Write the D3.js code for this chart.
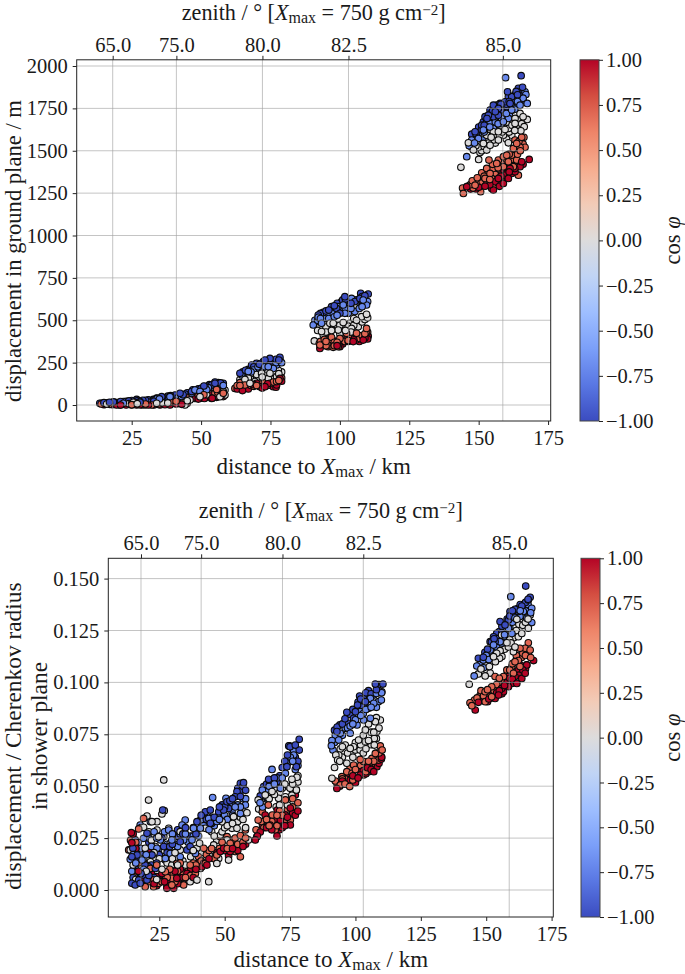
<!DOCTYPE html>
<html><head><meta charset="utf-8">
<script src="https://cdn.jsdelivr.net/npm/d3@7"></script>
<style>html,body{margin:0;background:#fff}svg{display:block}text{font-family:"Liberation Serif",serif;fill:#1a1a1a}</style>
</head><body><div id="c"></div>
<script>
// Colour values (cos phi) of the five visible point groups
const cosLevels = [-1, -0.71, 0, 0.71, 1];
const zenithLabels = ["65.0", "75.0", "80.0", "82.5", "85.0"];
const zenithKm = [18.16, 41.1, 72.1, 103.1, 158.7];
const zenithKmLower = [18.0, 41.0, 72.1, 103.0, 158.8];
const coolwarm = ["#3b4cc0","#5977e3","#7b9ff9","#9ebeff","#c0d4f5","#dddcdc","#f2cbb7","#f7ac8e","#ee8468","#d44e41","#b40426"];
const xTicks = [25,50,75,100,125,150,175];
const yTicksTop = [0,250,500,750,1000,1250,1500,1750,2000];
const yTicksLower = [0,0.025,0.05,0.075,0.1,0.125,0.15];
const cbarTicks = [-1,-0.75,-0.5,-0.25,0,0.25,0.5,0.75,1];

// Upper panel: [distance km, displacement m]
const topDarkBlue = [[165.3,1943],[164.3,1868],[165.8,1874],[160.4,1848],[164.9,1848],[160.7,1819],[161.9,1819],[155.3,1769],[156.5,1769],[157.7,1779],[159.5,1789],[161.3,1779],[158.9,1760],[154.1,1740],[155.9,1744],[157.1,1750],[160.1,1760],[152.3,1701],[153.5,1710],[151.7,1671],[152.9,1681],[151.1,1651],[148.7,1612],[147.5,1598],[149.3,1587],[155.3,1701],[157.1,1710],
 [150,1640],[151,1625],[152,1650],[153,1690],[154,1700],[154.5,1720],[155,1735],[156,1730],[157,1735],[158,1740],[158,1775],[159,1780],[160,1790],[160,1775],[161,1790],[162,1800],[163,1830],[163.5,1850],[164,1830],[165,1825],[166,1800],[149,1600],
 [101.8,639],[107.5,659],[110.2,655],[107.2,629],[94,547],[92.2,531],[97,580],[98.8,570],[100.6,610],[103.6,619],[105.4,610],[100,541],
 [93,540],[95,555],[96,560],[98,585],[99,600],[101,620],[102,625],[104,600],[106,620],[108,640],[109,645],[103,600],[97,560],
 [78.4,281],[74.8,275],[76.6,256],[68.2,236],[65.2,187],[64,187],[70,246],[72.4,256],
 [65,195],[66,205],[67,210],[69,225],[71,240],[73,265],[75,260],[77,270],[78,265],[72,245],
 [56.2,132],[53.8,118],[51.4,108],[48.4,88],[58,128],[46.6,79],[55,128],[54.5,124],[52.5,112],[50,98],
 [42.4,69],[44.2,65],[40.6,59],[35.8,49],[32.8,33],[26.8,33],[22,20],[18.4,18],[38,52],[30,28],[24,24],[43.5,60],[41,45],[37,30],[33,22],[28,16],[15.5,12],
 [13.5,10],[15,14],[17,16],[19,16],[20,14],[21,20],[23,22],[25,26],[27,25],[29,28],[31,30],[34,40],[36,44],[39,55],[45,72],[47,90],[49,95],[51,112],[53,120],[55,135],[57,130]];
const topMidBlue = [[159.7,1931],[167,1832],[167.5,1779],[164.9,1769],[163.1,1764],[160.7,1691],[158.9,1671],[156.7,1618],[154.1,1661],[151.7,1622],[151.4,1563],[147.5,1563],[146.6,1529],[145.7,1465],[160.1,1651],[158.3,1691],[161.9,1740],[166.7,1848],[155.3,1632],[149.9,1573],
 [150,1590],[152,1610],[153,1640],[154,1640],[155,1660],[156,1670],[157,1660],[158,1660],[159,1700],[160,1720],[161,1715],[162,1760],[163,1745],[164,1790],[165,1790],[166,1810],[148.5,1545],[147,1545],
 [90.4,472],[92.2,517],[94,525],[96.2,531],[97.6,541],[101.2,590],[103,580],[104.2,629],[108.4,619],[107.8,600],[109.6,590],[101.8,541],[105.4,551],[103,541],[99.4,580],[93.4,482],
 [91,500],[92,500],[93,510],[95,510],[96,510],[98,520],[99,530],[100,560],[102,570],[104,570],[106,590],[107,570],[108,580],[105,590],[110,610],
 [64.6,177],[67,197],[70,216],[71.8,236],[74.2,226],[77.2,236],[68.8,206],[76,216],[78.4,265],
 [65,170],[66,185],[68,195],[69,215],[70.5,225],[73,225],[75,240],[77,250],[79,250],[72,215],
 [55.6,118],[52.6,102],[49.6,79],[55,88],[46.6,69],[47.8,88],
 [14,10],[18.4,10],[25,10],[29.2,10],[32.2,20],[34.2,39],[38.8,49],[36.4,29],[41.8,45],[22,10],[16,10],
 [15,8],[17,12],[20,10],[24,14],[26,16],[28,20],[30,20],[33,28],[35,36],[37,40],[40,48],[43,50],[45,55],[48,75],[50,85],[52,90],[54,105],[56,105],[58,115]];
const topGray = [[143.6,1402],[150,1449],[146.3,1547],[148.1,1504],[151.1,1500],[152.9,1504],[154.1,1533],[152.9,1563],[155.3,1563],[157.1,1563],[160.7,1547],[161.9,1592],[158.9,1592],[160.7,1632],[163.1,1661],[164.9,1681],[167.5,1685],[166.4,1642],[165.2,1618],[162.2,1740],[164.9,1720],[163.1,1691],[151.7,1543],[149.9,1520],[155.3,1612],[157.1,1612],[153.5,1626],[152.9,1592],
 [147.5,1520],[149,1530],[150.5,1490],[152,1525],[153.5,1545],[154.5,1580],[156,1545],[157.5,1590],[158.5,1610],[159.5,1625],[160,1570],[161,1610],[162,1650],[163,1620],[164,1650],[165.5,1660],[166,1700],[161.5,1680],[160,1665],
 [90.8,378],[93.4,433],[94,452],[96.4,423],[97.6,482],[101.2,486],[103.6,482],[105.4,590],[107.8,521],[109.6,535],[106.6,462],[104.2,452],[99.4,442],[101.8,462],[92.8,462],[96.4,482],
 [92,440],[93,450],[95,460],[95,430],[97,440],[98,465],[99,470],[100,470],[102,440],[103,465],[105,470],[105,510],[106,500],[108,490],[109,505],[110,515],[94,415],[100,420],[104,430],
 [65.8,151],[68.2,187],[69.4,138],[71.8,187],[74.8,187],[77.8,206],[74.2,157],[77.2,167],[67.6,128],[71.8,138],
 [66,145],[67,160],[68,165],[70,160],[70,180],[72,165],[73,175],[75,165],[76,190],[78,185],[79,195],[64,150],
 [58.6,59],[56.8,49],[52.6,73],[47.8,39],[53.8,39],[49.6,49],[45.4,39],[58.6,88],
 [25.6,16],[38.8,20],[44.2,0],[20.8,0],[34,10],[17.2,6],[29.8,0],[41.8,10],
 [16,6],[19,6],[22,6],[24,8],[27,8],[31,6],[33,14],[36,14],[38,12],[40,26],[42,20],[46,30],[48,50],[50,60],[51,45],[52,60],[55,65],[57,70],[58,80],[45,25]];
const topOrange = [[144.2,1280],[144.5,1248],[147.7,1323],[150.7,1258],[151.1,1370],[152.9,1396],[153.7,1445],[155.9,1406],[157.1,1445],[158.9,1465],[160.1,1474],[161.9,1474],[163.7,1445],[165.5,1579],[163.7,1543],[166.7,1520],[164.9,1520],[162.5,1514],[160.7,1435],[164.3,1356],[157.7,1356],[154.7,1337],[152.3,1337],[150.5,1317],[155.9,1297],[158.9,1406],[154.1,1366],[163.1,1563],[166.3,1579],[162.5,1406],[148.7,1297],
 [146,1290],[147,1300],[149,1310],[149.5,1340],[151,1310],[152,1350],[153,1320],[154,1330],[155,1390],[156,1360],[157,1400],[158,1380],[159,1430],[160,1450],[161,1480],[162,1450],[163,1510],[164,1480],[165,1500],[166,1540],[164.5,1555],[155,1420],[156.5,1425],[153,1360],[148,1280],
 [92.6,364],[94.4,387],[95.8,344],[97.6,340],[100,393],[102.4,423],[104.2,393],[101.8,374],[106,423],[109.6,452],[109.6,433],[107.2,393],[99.4,344],[92.8,354],[94.6,364],[97,399],
 [93,375],[95,375],[96,385],[98,370],[99,370],[100,365],[101,395],[103,405],[103,380],[105,400],[106,385],[108,410],[109,420],[110,430],[96,350],[98,350],[95,350],[107,410],
 [62.2,98],[64,132],[65.8,118],[67.6,108],[71.2,108],[74.8,128],[77.2,138],[63.4,98],[73,138],
 [63,115],[64,115],[66,105],[68,115],[69,110],[70,115],[72,125],[74,115],[76,135],[78,145],[79,160],
 [49.6,69],[55.6,92],[54.4,59],[52,49],[47.8,59],[57.4,59],
 [15.4,4],[22,14],[28.6,0],[32.2,0],[37,20],[43,20],[40.6,10],[25,2],[35,6],[19,4],
 [14,6],[17,4],[21,4],[24,6],[27,6],[30,6],[33,8],[36,12],[39,16],[41,22],[44,32],[46,50],[49,55],[51,60],[53,55],[55,70],[56,75],[58,70]];
const topRed = [[168.2,1449],[165.5,1435],[163.1,1415],[163.1,1376],[161.3,1396],[161.9,1366],[159.5,1356],[160.7,1337],[158.3,1337],[155.9,1317],[154.7,1278],[155.3,1268],[152.3,1291],[147.1,1274],[145.7,1288],[157.1,1337],[160.1,1396],[164.9,1406],[158.9,1307],
 [149,1275],[150,1285],[151,1295],[153,1300],[154,1300],[156,1300],[157,1310],[158,1350],[159,1375],[160,1365],[161,1375],[162,1400],[163,1395],[164,1425],[166,1420],[157.5,1290],[154,1340],[155.5,1345],
 [92.8,334],[97.4,383],[100,344],[104.8,374],[106.6,399],[108.4,383],[110.2,407],[101.8,383],
 [94,350],[96,360],[98,355],[99,350],[101,360],[103,375],[105,385],[107,375],[109,395],[95,360],[110,390],
 [64.9,85],[65.2,108],[70,128],[73,108],[76,108],[77.2,118],[78.4,157],[68.2,128],
 [63,95],[66,100],[67,95],[69,120],[71,120],[72,100],[74,125],[75,120],[77,105],[79,140],
 [48.2,45],[51.2,39],[55.6,45],[53.8,59],
 [19.6,0],[35.2,0],[26.8,0],[31,0],[38.8,0],[23,0],[43,4],
 [15,2],[18,2],[21,0],[25,0],[28,2],[33,0],[37,2],[41,6],[45,10],[47,40],[49,35],[50,40],[52,45],[54,40],[56,50],[57,55],[58,50]];

// Lower panel: [distance km, displacement / Cherenkov radius]
const lowDarkBlue = [[165.1,.1464],[166.8,.1410],[164.9,.1381],[163.6,.1368],[161,.1352],[159.1,.1341],[160.4,.1333],[155.3,.1293],[157.2,.1277],[154,.1236],[152.8,.1220],[151.5,.1196],[153.4,.1196],[148.9,.1121],[147,.1116],[154.7,.1212],[158.5,.1301],[162.3,.1341],
 [149.5,.1145],[150.5,.1160],[152,.1195],[153,.1210],[155,.1245],[156,.1270],[158,.1305],[159,.1320],[160,.1345],[162,.1355],[163,.1375],[165,.1385],[166,.1400],[164,.1365],[154,.1200],[156,.1240],
 [107.6,.0992],[110.5,.0992],[110.1,.0955],[101.6,.0934],[100.8,.0891],[96.7,.0856],[99.3,.0827],[94,.0795],[97.4,.0803],[103.8,.0907],[107,.0939],[105,.0875],[100,.0859],[92.9,.0763],[102.5,.0883],
 [92,.0770],[93,.0785],[95,.0800],[96,.0825],[98,.0845],[99,.0870],[101,.0905],[102,.0920],[103,.0925],[104,.0950],[106,.0945],[108,.0965],[109,.0990],[105,.0960],
 [78.5,.0726],[78.5,.0674],[77,.0698],[74.5,.0694],[75.7,.0642],[77.4,.0594],[66.8,.0533],[70,.0522],[64.9,.0498],[63.6,.0453],[73.8,.0594],[66.2,.0425],
 [65,.0480],[66,.0510],[67,.0530],[69,.0540],[71,.0550],[72,.0590],[74,.0650],[75,.0690],[76,.0680],[77,.0640],[78,.0620],[73,.0620],
 [26.3,.0385],[14.5,.0032],[15.8,.0024],[14.9,.0201],[20.3,.0273],[32.4,.0257],[33,.0233],[26.7,.0209],[22.2,.0169],[27.3,.0144],[35.6,.0193],[20.9,.0112],[23.5,.0104],[57.2,.0517],[56,.0514],[54.7,.0474],[54,.0449],[49.6,.0385],[47.7,.0377],[51.5,.0393],[42.6,.0377],[44.5,.0385],[40.7,.0337],[39.4,.0329],[36.8,.0209],[20.3,.0048],[17.7,.0032],[56.6,.0482],[50.9,.0425],[44.5,.0321],[14.5,.0160],[15.2,.0128],[17.1,.0048],[19,.0072],[16.5,.0168],
 [15,.0060],[16,.0100],[16,.0200],[17,.0150],[18,.0080],[18.5,.0050],[19,.0180],[19.5,.0120],[21,.0070],[21,.0230],[22,.0120],[23,.0060],[24,.0130],[25,.0170],[26,.0250],[28,.0180],[29,.0210],[30,.0220],[31,.0180],[32,.0290],[34,.0270],[35,.0300],[37,.0260],[38,.0300],[39,.0270],[41,.0360],[42,.0350],[43,.0340],[45,.0320],[46,.0350],[48,.0400],[49,.0410],[50,.0400],[52,.0430],[53,.0440],[55,.0490],[57,.0500],[58,.0480],[56,.0450]];
const lowMidBlue = [[159.4,.1413],[164.2,.1341],[167.4,.1357],[165.5,.1309],[167.4,.1288],[159.8,.1236],[156.6,.1220],[155.3,.1196],[152.8,.1180],[151.5,.1156],[148.9,.1108],[146.4,.1079],[145.4,.1031],[148.3,.1068],[162.9,.1317],[158.5,.1261],[166.1,.1397],
 [147.5,.1085],[149,.1070],[150,.1130],[151,.1110],[152,.1150],[154,.1170],[156,.1190],[157,.1230],[158,.1220],[159,.1265],[160,.1290],[161,.1310],[163,.1345],[165,.1345],[166,.1375],[167,.1335],
 [90.8,.0695],[91.4,.0674],[92.3,.0746],[94.2,.0755],[98,.0755],[100.6,.0795],[103.1,.0819],[105.7,.0827],[107,.0899],[108.8,.0907],[109.9,.0915],[108,.0947],[105.7,.0923],[101.8,.0859],[96.1,.0779],[93.6,.0722],
 [91,.0720],[92,.0710],[93,.0755],[95,.0745],[97,.0780],[99,.0800],[100,.0820],[102,.0840],[104,.0870],[106,.0880],[108,.0880],[103,.0850],[110,.0950],[98,.0790],
 [74.8,.0694],[76.4,.0671],[75.1,.0639],[68.1,.0581],[71.3,.0549],[73.2,.0562],[68.7,.0522],[71.3,.0490],[65.5,.0465],[66.2,.0417],[76.4,.0650],[64.4,.0482],
 [63.5,.0420],[64,.0450],[66,.0480],[67,.0500],[69,.0510],[70,.0540],[72,.0540],[74,.0610],[76,.0620],[77,.0580],[78,.0600],[64.5,.0400],
 [45.4,.0445],[50.5,.0442],[34.9,.0337],[33.7,.0313],[28.6,.0289],[17.7,.0313],[21.6,.0329],[19,.0249],[25.4,.0241],[29.8,.0241],[34.3,.0241],[37.5,.0241],[13.9,.0148],[18.4,.0144],[17.7,.0080],[24.1,.0201],[33,.0160],[27.3,.0152],[42,.0337],[43.9,.0345],[38.1,.0297],[40.7,.0297],[49.6,.0361],[52.8,.0409],[56,.0369],[57.9,.0409],[48.3,.0361],[15.8,.0241],[29.2,.0176],[38.8,.0176],[52.8,.0377],[41.3,.0361],
 [14.5,.0090],[15,.0170],[16,.0130],[17,.0230],[18,.0200],[19,.0100],[20,.0170],[21,.0250],[22,.0210],[23,.0280],[24,.0250],[26,.0200],[27,.0280],[28,.0220],[30,.0270],[31,.0220],[32,.0210],[33,.0270],[35,.0270],[36,.0230],[38,.0260],[40,.0260],[42,.0310],[44,.0290],[45,.0350],[46,.0310],[47,.0330],[48,.0340],[50,.0360],[51,.0340],[53,.0360],[54,.0400],[55,.0410],[57,.0440],[58,.0440],[56,.0400]];
const lowGray = [[143.5,.0991],[149.6,.1031],[151.2,.1076],[147,.1041],[152.8,.1124],[152.8,.1164],[155.1,.1116],[155.3,.1153],[160.4,.1148],[157.9,.1191],[162.3,.1220],[163.6,.1236],[166.1,.1261],[161.7,.1304],[166.1,.1357],[163.6,.1325],[166.8,.1325],[155.9,.1228],
 [148,.1065],[150,.1080],[151.5,.1045],[152,.1100],[153.5,.1100],[154,.1140],[156,.1125],[157,.1160],[158.5,.1170],[159.5,.1190],[161,.1170],[161.5,.1250],[162.5,.1280],[164,.1275],[165,.1290],[166,.1305],[160.5,.1215],[159,.1205],
 [91,.0538],[93.2,.0626],[94.2,.0679],[96.1,.0698],[93.6,.0650],[96.7,.0610],[98,.0682],[100,.0674],[101.2,.0722],[103.8,.0714],[107.2,.0730],[107.2,.0698],[108.2,.0763],[109.5,.0819],[107.6,.0811],[105.7,.0918],[103.8,.0771],[101.8,.0674],[99.3,.0690],
 [92,.0590],[92.5,.0650],[94,.0620],[95,.0640],[95,.0690],[97,.0660],[99,.0640],[100,.0710],[102,.0700],[103,.0660],[104,.0680],[105,.0720],[106,.0760],[106,.0700],[108,.0730],[109,.0780],[107,.0760],[105,.0800],[103,.0745],[108,.0830],
 [77.6,.0543],[75.7,.0533],[74.5,.0498],[75.7,.0457],[73.2,.0449],[70.6,.0442],[68.1,.0474],[69.7,.0401],[77.4,.0482],[62.8,.0434],[65.5,.0458],[69.3,.0482],
 [63,.0390],[65,.0410],[67,.0440],[69,.0460],[71,.0470],[72,.0490],[73,.0510],[75,.0490],[76,.0510],[78,.0520],[78,.0550],[71,.0410],[74,.0410],
 [26.7,.0530],[20.9,.0433],[20.3,.0356],[26,.0366],[24.1,.0329],[22.2,.0329],[26.9,.0382],[24.1,.0289],[19,.0302],[28.6,.0297],[24.7,.0257],[26.7,.0257],[13.9,.0193],[29.2,.0225],[19.6,.0201],[23.5,.0209],[33,.0193],[39.4,.0201],[40.4,.0225],[39.4,.0048],[43.9,.0040],[36.8,.0040],[40.7,.0104],[38.8,.0104],[47,.0128],[47.7,.0152],[51.5,.0144],[49,.0329],[53.4,.0353],[58.5,.0372],[56.6,.0393],[45.8,.0217],[50.9,.0241],[59.1,.0241],[54.7,.0297],[48.3,.0265],[52.8,.0297],[33,.0281],[42.6,.0297],[17.1,.0112],[21.6,.0136],[29.8,.0120],[26.7,.0088],
 [15,.0120],[16,.0050],[17,.0200],[18,.0300],[19,.0150],[20,.0090],[21,.0280],[22,.0240],[23,.0180],[25,.0150],[26,.0100],[27,.0190],[28,.0130],[30,.0150],[31,.0180],[32,.0120],[34,.0140],[35,.0120],[37,.0160],[38,.0190],[41,.0180],[42,.0150],[44,.0170],[45,.0280],[46,.0260],[47,.0240],[49,.0280],[50,.0300],[51,.0310],[53,.0320],[55,.0330],[56,.0350],[57,.0340],[58,.0300],[24,.0050]];
const lowOrange = [[166.1,.1191],[164.9,.1164],[166.8,.1156],[162.3,.1105],[159.8,.1076],[157.9,.1060],[153.4,.1028],[156.6,.1028],[162.9,.1076],[165.5,.1084],[155.3,.0987],[152.1,.0979],[149.6,.0955],[147.7,.0939],[143.8,.0902],[144.5,.0888],[149.6,.0907],[152.1,.0931],[155.3,.0947],[166.1,.1140],[160.4,.1044],[162.9,.1164],
 [145.5,.0915],[146.5,.0925],[148,.0960],[149,.0935],[150.5,.0965],[151,.0935],[153,.0960],[154,.0990],[155,.1020],[157,.1010],[158,.1040],[159,.1060],[160,.1090],[161,.1100],[163.5,.1120],[164,.1140],[165,.1130],[167,.1120],[156,.0990],[161.5,.1130],
 [92.3,.0525],[95.5,.0514],[97.8,.0498],[94.8,.0546],[96.7,.0570],[99.3,.0602],[101.8,.0629],[103.8,.0594],[106.3,.0634],[109.5,.0694],[110.2,.0674],[107.6,.0658],[100,.0530],[103.1,.0554],[98.7,.0562],[94.2,.0506],[105,.0570],[108.8,.0626],
 [93,.0510],[95,.0535],[96,.0510],[97,.0540],[98,.0590],[99,.0530],[100,.0580],[101,.0590],[102,.0600],[103,.0620],[104,.0570],[105,.0620],[106,.0600],[108,.0660],[109,.0660],[107,.0620],[110,.0640],
 [77.4,.0482],[71.3,.0434],[66.7,.0409],[62.8,.0337],[69.3,.0289],[75.1,.0337],[64.4,.0376],[73.2,.0434],[68.2,.0361],
 [62,.0290],[64,.0330],[66,.0340],[67,.0310],[68,.0330],[70,.0310],[71,.0380],[72,.0360],[74,.0390],[76,.0400],[76,.0440],[78,.0420],[70,.0360],[73,.0330],[65,.0300],
 [19,.0345],[17.1,.0294],[13.3,.0193],[22.2,.0169],[15.8,.0088],[21.6,.0104],[27.3,.0088],[24.7,.0032],[22.8,.0016],[29.8,.0056],[29.8,.0024],[34.3,.0024],[33.7,.0056],[38.8,.0080],[42.6,.0128],[42,.0201],[48.3,.0257],[56,.0262],[52.1,.0225],[56,.0160],[57.9,.0289],[62.3,.0257],[50.9,.0257],[31.7,.0128],[36.8,.0120],[33.7,.0088],[27.9,.0016],[19.6,.0016],[47,.0169],[54,.0185],
 [14,.0240],[15,.0160],[16,.0230],[17,.0130],[18,.0060],[20,.0120],[21,.0040],[23,.0050],[24,.0120],[25,.0060],[26,.0040],[28,.0060],[29,.0100],[30,.0080],[31,.0040],[32,.0090],[33,.0130],[35,.0060],[36,.0090],[37,.0070],[38,.0130],[39,.0120],[40,.0160],[41,.0140],[43,.0170],[44,.0190],[45,.0200],[46,.0150],[48,.0200],[49,.0230],[51,.0200],[53,.0240],[54,.0250],[55,.0220],[57,.0230],[58,.0250]];
const lowRed = [[168.1,.1105],[165.5,.1084],[164.9,.1044],[162.3,.1060],[161,.1028],[163.6,.1019],[159.8,.0995],[158.5,.0979],[156.6,.0955],[154.7,.0939],[153.4,.0923],[150.5,.0907],[147,.0904],[145.8,.0867],[158.5,.1028],[155.9,.0971],[161.7,.0995],
 [148,.0915],[149,.0925],[151,.0920],[152,.0925],[154,.0950],[155,.0960],[157,.0985],[158,.1000],[159,.1020],[160,.1015],[161,.1045],[162.5,.1035],[164,.1060],[163,.1085],[165,.1065],[156,.0945],
 [92.9,.0489],[97.4,.0562],[100,.0517],[104.6,.0589],[108.2,.0594],[109.9,.0631],[101.8,.0554],[107,.0570],[105.7,.0586],
 [94,.0500],[95,.0525],[96,.0545],[98,.0530],[99,.0550],[101,.0540],[102,.0570],[103,.0575],[106,.0580],[109,.0610],[110,.0640],[104,.0560],
 [75.1,.0395],[73.2,.0361],[67.4,.0313],[63.6,.0279],[77,.0458],[71.3,.0337],[65.5,.0361],[61.7,.0241],[70.1,.0385],[75.1,.0313],
 [62.5,.0260],[64.5,.0310],[66,.0300],[68,.0290],[69,.0340],[72,.0300],[73,.0310],[74,.0350],[76,.0370],[77,.0360],[78,.0380],[71,.0290],[70,.0260],
 [14.3,.0276],[14.5,.0228],[20.9,.0193],[20.9,.0048],[27.9,.0008],[33,.0072],[35.6,.0080],[41.3,.0112],[43.2,.0120],[27.9,.0080],[30.5,.0008],[48.3,.0185],[51.5,.0164],[56,.0217],[52.1,.0185],[31.7,.0056],[38.1,.0096],[24.1,.0064],[49.6,.0201],[14.5,.0193],
 [15,.0270],[16,.0200],[17,.0090],[19,.0050],[22,.0080],[23,.0030],[24,.0020],[25,.0050],[26,.0080],[27,.0040],[28,.0040],[29,.0020],[31,.0090],[32,.0030],[33,.0100],[34,.0060],[36,.0050],[37,.0100],[38,.0060],[39,.0100],[40,.0130],[42,.0130],[44,.0150],[45,.0160],[47,.0180],[50,.0190],[53,.0200],[54,.0210],[55,.0190],[57,.0210],[58,.0220]];

const W = 685, H = 974, FS = 20.5;
const svg = d3.select("#c").append("svg").attr("width", W).attr("height", H);
const colorT = d3.scaleLinear().domain(d3.range(11).map(i => -1 + i * 0.2)).range(coolwarm).interpolate(d3.interpolateRgb);

const grad = svg.append("defs").append("linearGradient").attr("id", "cw").attr("x1", 0).attr("x2", 0).attr("y1", 1).attr("y2", 0);
coolwarm.forEach((c, i) => grad.append("stop").attr("offset", i / 10).attr("stop-color", c));

function mathText(sel, fs, parts) {
  sel.attr("font-size", fs);
  parts.forEach(p => {
    const t = sel.append("tspan").text(p.t);
    if (p.i) t.style("font-style", "italic");
    if (p.sub) t.attr("dy", 3).attr("font-size", fs * 0.72);
    if (p.sup) t.attr("dy", -5).attr("font-size", fs * 0.68);
    if (p.back) t.attr("dy", p.back);
  });
}

function panel(o) {
  const g = svg.append("g");
  const x = d3.scaleLinear().domain(o.xDomain).range([o.L, o.R]);
  const y = d3.scaleLinear().domain(o.yDomain).range([o.y0, o.y1]);
  // marks: interleaved so that the groups overlap as in a shuffled scatter
  const pts = [];
  o.groups.forEach((arr, gi) => arr.forEach((d, i) => pts.push({ k: d[0], v: d[1], c: cosLevels[gi], r: ((i * 37 + gi * 11) % arr.length) / arr.length + gi * 0.001 })));
  pts.sort((a, b) => a.r - b.r);
  g.selectAll("circle").data(pts).join("circle")
    .attr("cx", d => x(d.k)).attr("cy", d => y(d.v)).attr("r", 3.3)
    .attr("fill", d => colorT(d.c)).attr("stroke", "#0a0a0a").attr("stroke-width", 1.1);
  // grid above marks, translucent
  const grid = g.append("g").attr("stroke", "#a0a0a0").attr("stroke-opacity", 0.62).attr("stroke-width", 1);
  o.yTicks.forEach(t => grid.append("line").attr("x1", o.L).attr("x2", o.R).attr("y1", y(t)).attr("y2", y(t)));
  o.zenith.forEach(t => grid.append("line").attr("x1", x(t)).attr("x2", x(t)).attr("y1", o.T).attr("y2", o.B));
  // frame
  g.append("rect").attr("x", o.L).attr("y", o.T).attr("width", o.R - o.L).attr("height", o.B - o.T).attr("fill", "none").attr("stroke", "#222").attr("stroke-width", 1);
  const style = a => { a.selectAll(".domain").remove(); a.selectAll("line").attr("stroke", "#222"); a.selectAll("text").attr("font-size", FS).style("font-family", '"Liberation Serif",serif').attr("fill", "#1a1a1a"); };
  g.append("g").attr("transform", `translate(0,${o.B})`).call(d3.axisBottom(x).tickValues(xTicks).tickSize(4).tickPadding(5).tickFormat(d3.format("d"))).call(style);
  g.append("g").attr("transform", `translate(0,${o.T})`).call(d3.axisTop(x).tickValues(o.zenith).tickSize(4).tickPadding(4).tickFormat((d, i) => zenithLabels[i])).call(style);
  g.append("g").attr("transform", `translate(${o.L},0)`).call(d3.axisLeft(y).tickValues(o.yTicks).tickSize(4).tickPadding(5).tickFormat(o.yFormat)).call(style);
  const cx = (o.L + o.R) / 2;
  const xl = g.append("text").attr("x", cx).attr("y", o.xLabelY).attr("text-anchor", "middle");
  mathText(xl, 23, [{ t: "distance to " }, { t: "X", i: 1 }, { t: "max", sub: 1 }, { t: " / km", back: -3 }]);
  const tl = g.append("text").attr("x", cx).attr("y", o.titleY).attr("text-anchor", "middle");
  mathText(tl, 22.2, [{ t: "zenith / ° [" }, { t: "X", i: 1 }, { t: "max", sub: 1 }, { t: " = 750 g cm", back: -3 }, { t: "−2", sup: 1 }, { t: "]", back: 5 }]);
  o.yLabels.forEach((s, i) => g.append("text").attr("transform", `translate(${o.yLabelX[i]},${o.yLabelC}) rotate(-90)`).attr("text-anchor", "middle").attr("font-size", o.yLabelFS).text(s));
  // colour bar
  const cs = d3.scaleLinear().domain([-1, 1]).range([o.B, o.T]);
  g.append("rect").attr("x", o.cbL).attr("y", o.T).attr("width", 19).attr("height", o.B - o.T).attr("fill", "url(#cw)").attr("stroke", "#444").attr("stroke-width", 1);
  g.append("g").attr("transform", `translate(${o.cbL + 19},0)`).call(d3.axisRight(cs).tickValues(cbarTicks).tickSize(4).tickPadding(3).tickFormat(d3.format(".2f"))).call(style);
  const cl = g.append("text").attr("transform", `translate(680,${(o.T + o.B) / 2}) rotate(-90)`).attr("text-anchor", "middle").attr("font-size", 22.5);
  cl.append("tspan").text("cos ");
  cl.append("tspan").style("font-style", "italic").text("φ");
}

panel({
  L: 76.7, R: 550.7, T: 59.8, B: 421, y0: 405, y1: 66, xDomain: [5.19, 175.95], yDomain: [0, 2000],
  groups: [topDarkBlue, topMidBlue, topGray, topOrange, topRed], yTicks: yTicksTop, zenith: zenithKm, yFormat: d3.format("d"),
  xLabelY: 474, titleY: 20, yLabels: ["displacement in ground plane / m"], yLabelX: [20.5], yLabelC: 251, yLabelFS: 22.6, cbL: 580
});
panel({
  L: 108.3, R: 553.3, T: 558.3, B: 917, y0: 890, y1: 578.6, xDomain: [5.5, 175.65], yDomain: [0, 0.15],
  groups: [lowDarkBlue, lowMidBlue, lowGray, lowOrange, lowRed], yTicks: yTicksLower, zenith: zenithKmLower, yFormat: d3.format(".3f"),
  xLabelY: 967, titleY: 518, yLabels: ["displacement / Cherenkov radius", "in shower plane"], yLabelX: [20.5, 47], yLabelC: 736, yLabelFS: 23.4, cbL: 581
});
</script></body></html>
